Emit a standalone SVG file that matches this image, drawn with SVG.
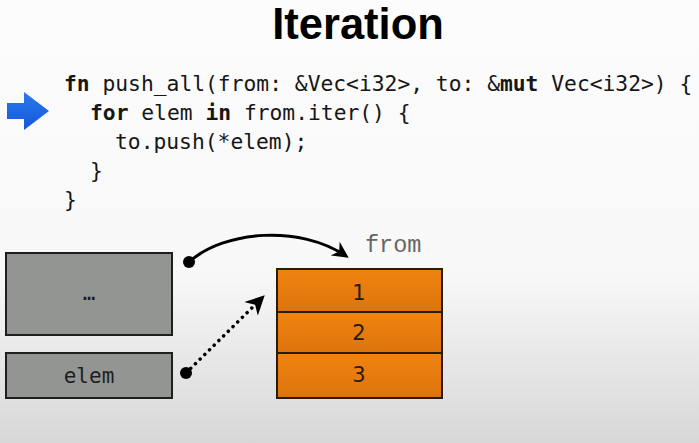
<svg xmlns="http://www.w3.org/2000/svg" width="699" height="443" viewBox="0 0 699 443">
  <defs>
    <linearGradient id="bg" x1="0" y1="0" x2="0" y2="1">
      <stop offset="0" stop-color="#fbfcfb"/>
      <stop offset="0.62" stop-color="#f7f8f7"/>
      <stop offset="1" stop-color="#d6d7d6"/>
    </linearGradient>
    <linearGradient id="orange" x1="0" y1="0" x2="0" y2="1">
      <stop offset="0" stop-color="#f1840f"/>
      <stop offset="1" stop-color="#dc740e"/>
    </linearGradient>
    <linearGradient id="blue" x1="0" y1="0" x2="0" y2="1">
      <stop offset="0" stop-color="#2a78f0"/>
      <stop offset="1" stop-color="#1458d8"/>
    </linearGradient>
    <marker id="head" viewBox="0 0 10 10" refX="8" refY="5" markerWidth="5.5" markerHeight="5.5" orient="auto" markerUnits="strokeWidth">
      <path d="M0,0 L10,5 L0,10 L3,5 Z" fill="#000"/>
    </marker>
  </defs>
  <style>
    .code { font-family: "DejaVu Sans Mono", monospace; font-size: 21.3px; fill: #161616; }
    .kw { font-weight: bold; }
    .cell { fill: url(#orange); stroke: #2a1a08; stroke-width: 2; }
    .slot { fill: #929592; stroke: #1e1e1e; stroke-width: 2; }
    .num { font-family: "DejaVu Sans", sans-serif; font-size: 21px; fill: #2a1a08; text-anchor: middle; }
    .lbl { font-family: "DejaVu Sans Mono", monospace; font-size: 21px; fill: #1e1e1e; text-anchor: middle; }
  </style>

  <rect width="699" height="443" fill="url(#bg)"/>

  <!-- title -->
  <text x="358" y="39" font-family="Liberation Sans, Arial, sans-serif" font-weight="bold" font-size="43.5" text-anchor="middle" fill="#000">Iteration</text>

  <!-- current-line pointer -->
  <path id="pointer" d="M7,103 H24 V92 L49,111 L24,130 V119 H7 Z" fill="url(#blue)"/>

  <!-- source listing -->
  <g id="code" class="code">
    <text x="64" y="91"><tspan class="kw">fn</tspan> push_all(from: &amp;Vec&lt;i32&gt;, to: &amp;<tspan class="kw">mut</tspan> Vec&lt;i32&gt;) {</text>
    <text x="90" y="120"><tspan class="kw">for</tspan> elem <tspan class="kw">in</tspan> from.iter() {</text>
    <text x="115" y="149">to.push(*elem);</text>
    <text x="90" y="178">}</text>
    <text x="64" y="207">}</text>
  </g>

  <!-- stack slots -->
  <g id="slot-rest">
    <rect class="slot" x="6" y="253" width="166" height="82"/>
    <text class="lbl" x="89" y="300" font-size="18">…</text>
  </g>
  <g id="slot-elem">
    <rect class="slot" x="6" y="353" width="166" height="45"/>
    <text class="lbl" x="89" y="383">elem</text>
  </g>

  <!-- vector contents -->
  <g id="vec-from">
    <rect class="cell" x="277" y="269" width="165" height="43"/>
    <rect class="cell" x="277" y="312" width="165" height="41"/>
    <rect class="cell" x="277" y="353" width="165" height="45"/>
    <text class="num" x="359" y="300">1</text>
    <text class="num" x="359" y="340">2</text>
    <text class="num" x="359" y="382">3</text>
    <text x="365" y="252" font-family="Liberation Mono, Courier New, monospace" font-size="23.5" fill="#666">from</text>
  </g>

  <!-- references -->
  <g id="connectors" fill="none" stroke="#000">
    <circle cx="189" cy="262" r="6" fill="#000" stroke="none"/>
    <path d="M189,262 C225,230 300,225 346,256" stroke-width="3" marker-end="url(#head)"/>
    <circle cx="186" cy="373" r="6" fill="#000" stroke="none"/>
    <path d="M186,373 L262,298" stroke-width="3.5" stroke-dasharray="0.1 6.5" stroke-linecap="round" marker-end="url(#head)"/>
  </g>
</svg>
